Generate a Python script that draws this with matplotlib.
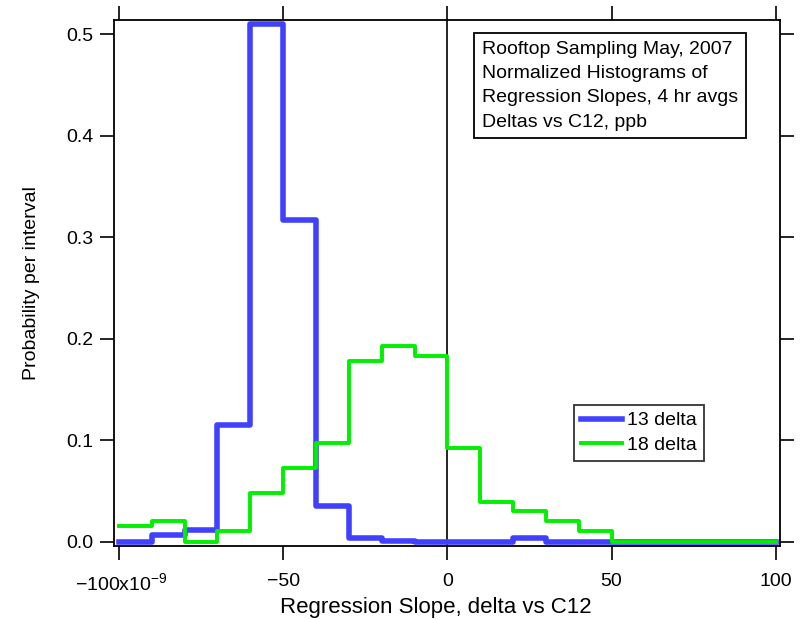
import numpy as np
import matplotlib.pyplot as plt
from matplotlib.transforms import ScaledTranslation

plt.rcParams['font.family'] = ['Liberation Sans', 'DejaVu Sans']
plt.rcParams['mathtext.fontset'] = 'custom'
plt.rcParams['mathtext.rm'] = 'Liberation Sans'
plt.rcParams['mathtext.it'] = 'Liberation Sans'

# bin edges (units of 1e-9) and normalized histogram values
edges = list(range(-100, 101, 10))
delta13 = [0.0, 0.006, 0.011, 0.115, 0.510, 0.317, 0.035, 0.003, 0.001, 0.0,
           0.0, 0.0, 0.003, 0.0, 0.0, 0.0, 0.0, 0.0, 0.0, 0.0]
delta18 = [0.015, 0.020, 0.0, 0.010, 0.048, 0.072, 0.097, 0.178, 0.193, 0.183,
           0.092, 0.039, 0.030, 0.020, 0.010, 0.0, 0.0, 0.0, 0.0, 0.0]
xticks = [-100, -50, 0, 50, 100]
xticklabels = ['\u2212100x10$^{\u22129}$', '\u221250', '0', '50', '100']
yticks = [0.0, 0.1, 0.2, 0.3, 0.4, 0.5]

fig = plt.figure(figsize=(8.03, 6.20), dpi=100)
ax = fig.add_axes([0.142, 0.12, 0.829, 0.848])

ax.axvline(0, color='black', lw=1.2, zorder=1)
ax.step(edges, delta13 + [delta13[-1]], where='post', color='#4040ff', lw=4.0,
        label='13 delta', zorder=2)
ax.step(edges, delta18 + [delta18[-1]], where='post', color='#00f000', lw=2.8,
        label='18 delta', zorder=3)

ax.set_xlim(-101.5, 101.2)
ax.set_ylim(-0.004, 0.514)
ax.set_xticks(xticks)
ax.set_xticklabels(xticklabels)
ax.set_yticks(yticks)
ax.set_yticklabels(['%.1f' % v for v in yticks])
ax.tick_params(direction='out', length=10, width=1.2, labelsize=14,
               top=True, right=True)
ax.tick_params(axis='x', pad=9.5)
ax.tick_params(axis='y', pad=5)
lab = ax.get_xticklabels()[0]
lab.set_transform(lab.get_transform() + ScaledTranslation(0.02, 0, fig.dpi_scale_trans))
for s in ax.spines.values():
    s.set_linewidth(1.3)

ax.set_xlabel('Regression Slope, delta vs C12', fontsize=16)
ax.xaxis.set_label_coords(0.484, -0.0976)
ax.set_ylabel('Probability per interval', fontsize=14, labelpad=19)

ax.text(0.5526, 0.96, 'Rooftop Sampling May, 2007\nNormalized Histograms of\n'
        'Regression Slopes, 4 hr avgs\nDeltas vs C12, ppb',
        transform=ax.transAxes, fontsize=14, va='top', ha='left', linespacing=1.56,
        bbox=dict(boxstyle='square,pad=0.4', fc='white', ec='black', lw=1.3))

leg = ax.legend(loc='upper left', bbox_to_anchor=(0.691, 0.2676), fontsize=14,
                frameon=True, fancybox=False, edgecolor='black', handlelength=2.1,
                borderpad=0.35, labelspacing=0.35, handletextpad=0.3,
                borderaxespad=0)
leg.get_frame().set_linewidth(1.3)

fig.savefig('out.png', dpi=100)
